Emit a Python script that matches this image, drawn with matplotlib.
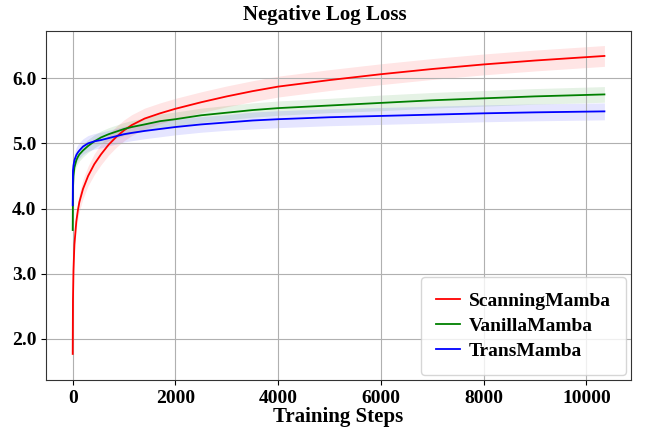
import matplotlib
matplotlib.use("Agg")
import matplotlib.pyplot as plt
import numpy as np

plt.rcParams['font.family'] = ['Liberation Serif', 'DejaVu Serif']
plt.rcParams['font.weight'] = 'bold'

steps = [0, 5, 15, 33, 70, 100, 130, 200, 300, 420, 550, 700, 850, 1000, 1150, 1400, 1700,
         2000, 2500, 3000, 3500, 4000, 5000, 6000, 7000, 8000, 9000, 10350]

# mean negative log loss per model
scanning = [1.77, 2.6, 3.05, 3.45, 3.80, 3.97, 4.10, 4.30, 4.50, 4.68, 4.83, 4.98, 5.10, 5.20, 5.28,
            5.38, 5.46, 5.53, 5.63, 5.72, 5.80, 5.87, 5.97, 6.06, 6.14, 6.21, 6.27, 6.34]
vanilla = [3.67, 4.30, 4.50, 4.63, 4.74, 4.79, 4.83, 4.89, 4.96, 5.03, 5.09, 5.14, 5.18, 5.22, 5.25,
           5.29, 5.34, 5.37, 5.43, 5.47, 5.51, 5.54, 5.58, 5.62, 5.66, 5.69, 5.72, 5.75]
trans = [4.05, 4.58, 4.66, 4.74, 4.82, 4.86, 4.89, 4.95, 5.00, 5.03, 5.05, 5.08, 5.11, 5.14, 5.16,
         5.19, 5.22, 5.25, 5.29, 5.32, 5.35, 5.37, 5.40, 5.42, 5.44, 5.46, 5.475, 5.49]

# half width of the shaded band
scanning_sd = [0.02, 0.05, 0.08, 0.10, 0.12, 0.13, 0.14, 0.15, 0.15, 0.16, 0.16, 0.16, 0.16, 0.16, 0.16,
               0.16, 0.16, 0.16, 0.16, 0.16, 0.16, 0.16, 0.16, 0.16, 0.16, 0.16, 0.16, 0.16]
vanilla_sd = [0.02, 0.05, 0.07, 0.08, 0.09, 0.10, 0.10, 0.10, 0.10, 0.10, 0.10, 0.10, 0.10, 0.10, 0.10,
              0.10, 0.11, 0.11, 0.11, 0.11, 0.11, 0.11, 0.11, 0.12, 0.12, 0.12, 0.12, 0.12]
trans_sd = [0.02, 0.08, 0.10, 0.11, 0.12, 0.12, 0.12, 0.12, 0.12, 0.12, 0.12, 0.12, 0.12, 0.12, 0.12,
            0.12, 0.12, 0.12, 0.12, 0.12, 0.13, 0.13, 0.13, 0.13, 0.13, 0.13, 0.13, 0.13]

series = [('ScanningMamba', scanning, scanning_sd, 'red'),
          ('VanillaMamba', vanilla, vanilla_sd, 'green'),
          ('TransMamba', trans, trans_sd, 'blue')]

fig = plt.figure(figsize=(6.46, 4.33), dpi=100)
ax = fig.add_axes([0.0712, 0.1224, 0.9058, 0.8056])

for name, mean, sd, color in series:
    mean = np.array(mean)
    sd = np.array(sd)
    ax.fill_between(steps, mean - sd, mean + sd, color=color, alpha=0.1, linewidth=0)
    ax.plot(steps, mean, color=color, linewidth=1.3, label=name)

ax.set_xlim(-520, 10870)
ax.set_ylim(1.37, 6.72)
ax.set_xticks([0, 2000, 4000, 6000, 8000, 10000])
ax.set_yticks([2.0, 3.0, 4.0, 5.0, 6.0])
ax.set_yticklabels(['2.0', '3.0', '4.0', '5.0', '6.0'])
ax.tick_params(labelsize=14, length=3.5)
ax.grid(True, color='#b0b0b0', linewidth=0.8)
for sp in ax.spines.values():
    sp.set_color('#333333')

ax.set_title('Negative Log Loss', fontsize=15, fontweight='bold', pad=8, x=0.477)
ax.set_xlabel('Training Steps', fontsize=15, fontweight='bold', labelpad=0)
ax.legend(loc='lower right', fontsize=14, handlelength=1.25, handletextpad=0.45,
          borderpad=0.78, labelspacing=0.39, borderaxespad=0.25)

fig.savefig('out.png', dpi=100)
